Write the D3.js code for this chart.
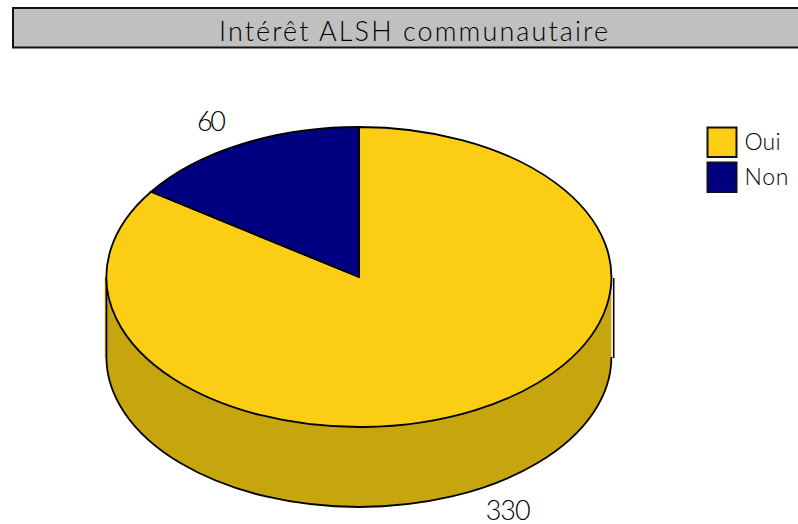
<!DOCTYPE html>
<html>
<head>
<meta charset="utf-8">
<script src="https://cdn.jsdelivr.net/npm/d3@7"></script>
<style>
  html, body { margin: 0; padding: 0; background: #fff; }
  svg { display: block; }
  text { font-family: Lato, "Open Sans", sans-serif; font-weight: 300; fill: #000; }
</style>
</head>
<body>
<svg id="chart" width="798" height="524"></svg>
<script>
const titleText = 'Intérêt ALSH communautaire';
const categories = ['Oui', 'Non'];
const values = [330, 60];
const colors = ['#fbcd14', '#000080'];
const sideColor = '#c6a50f';

const width = 798, height = 524;
const cx = 358.9, cy = 277;
const rx = 252.5, ry = 150, depth = 80;

const svg = d3.select('#chart');

// title bar
svg.append('rect')
  .attr('x', 13).attr('y', 8)
  .attr('width', width).attr('height', 39.5)
  .attr('fill', '#c0c0c0')
  .attr('stroke', '#111').attr('stroke-width', 2);

svg.append('text')
  .attr('x', 413.5).attr('y', 40.5)
  .attr('text-anchor', 'middle')
  .attr('textLength', 389)
  .style('font-size', '27px')
  .text(titleText);

// clockwise from 12 o'clock, Oui first so Non sits just left of the top
const pie = d3.pie().sort(null).value(d => d)
  .startAngle(0).endAngle(2 * Math.PI);
const slices = pie(values);

const arc = d3.arc().innerRadius(0).outerRadius(rx);

// side wall of the disc, front half only
const wall = `M${cx - rx},${cy} A${rx},${ry} 0 0 0 ${cx + rx},${cy}` +
  ` L${cx + rx},${cy + depth} A${rx},${ry} 0 0 1 ${cx - rx},${cy + depth} Z`;
svg.append('path')
  .attr('d', wall)
  .attr('fill', sideColor);

// yellow fringe just outside the left edge
svg.append('line')
  .attr('x1', cx - rx - 1.2).attr('x2', cx - rx - 1.2)
  .attr('y1', cy + 1).attr('y2', cy + depth + 1)
  .attr('stroke', colors[0]).attr('stroke-width', 1.2);

// the wall outline leaves out the right edge
const wallEdge = `M${cx - rx},${cy} L${cx - rx},${cy + depth}` +
  ` A${rx},${ry} 0 0 0 ${cx + rx},${cy + depth}`;
svg.append('path')
  .attr('d', wallEdge)
  .attr('fill', 'none')
  .attr('stroke', '#000').attr('stroke-width', 1.8);

// top of the disc is a round pie squashed in y
const disc = svg.append('g')
  .attr('transform', `translate(${cx},${cy}) scale(1,${ry / rx})`);

disc.selectAll('path')
  .data(slices)
  .join('path')
  .attr('d', arc)
  .attr('fill', (d, i) => colors[i])
  .attr('stroke', '#000')
  .attr('stroke-width', 1.8)
  .attr('vector-effect', 'non-scaling-stroke');

// stray edge standing off the right of the wall
svg.append('line')
  .attr('x1', cx + rx + 2.3).attr('x2', cx + rx + 2.3)
  .attr('y1', cy + 1).attr('y2', cy + depth + 1)
  .attr('stroke', '#000').attr('stroke-width', 1.6);

// value labels
const labelPos = [[508.2, 519.5], [211.5, 130.5]];
const labelLen = [45, 29];
svg.selectAll('text.value')
  .data(values)
  .join('text')
  .attr('class', 'value')
  .attr('x', (d, i) => labelPos[i][0])
  .attr('y', (d, i) => labelPos[i][1])
  .attr('text-anchor', 'middle')
  .attr('textLength', (d, i) => labelLen[i])
  .style('font-size', '27px')
  .text(d => d);

// legend
const legendLen = [36, 44];
const legend = svg.selectAll('g.legend')
  .data(categories)
  .join('g')
  .attr('class', 'legend')
  .attr('transform', (d, i) => `translate(707.5,${127.5 + i * 35})`);

legend.append('rect')
  .attr('width', 29).attr('height', 29.5)
  .attr('fill', (d, i) => colors[i])
  .attr('stroke', '#111').attr('stroke-width', 2);

legend.append('text')
  .attr('x', 37).attr('y', 22)
  .attr('textLength', (d, i) => legendLen[i])
  .style('font-size', '23px')
  .text(d => d);
</script>
</body>
</html>
